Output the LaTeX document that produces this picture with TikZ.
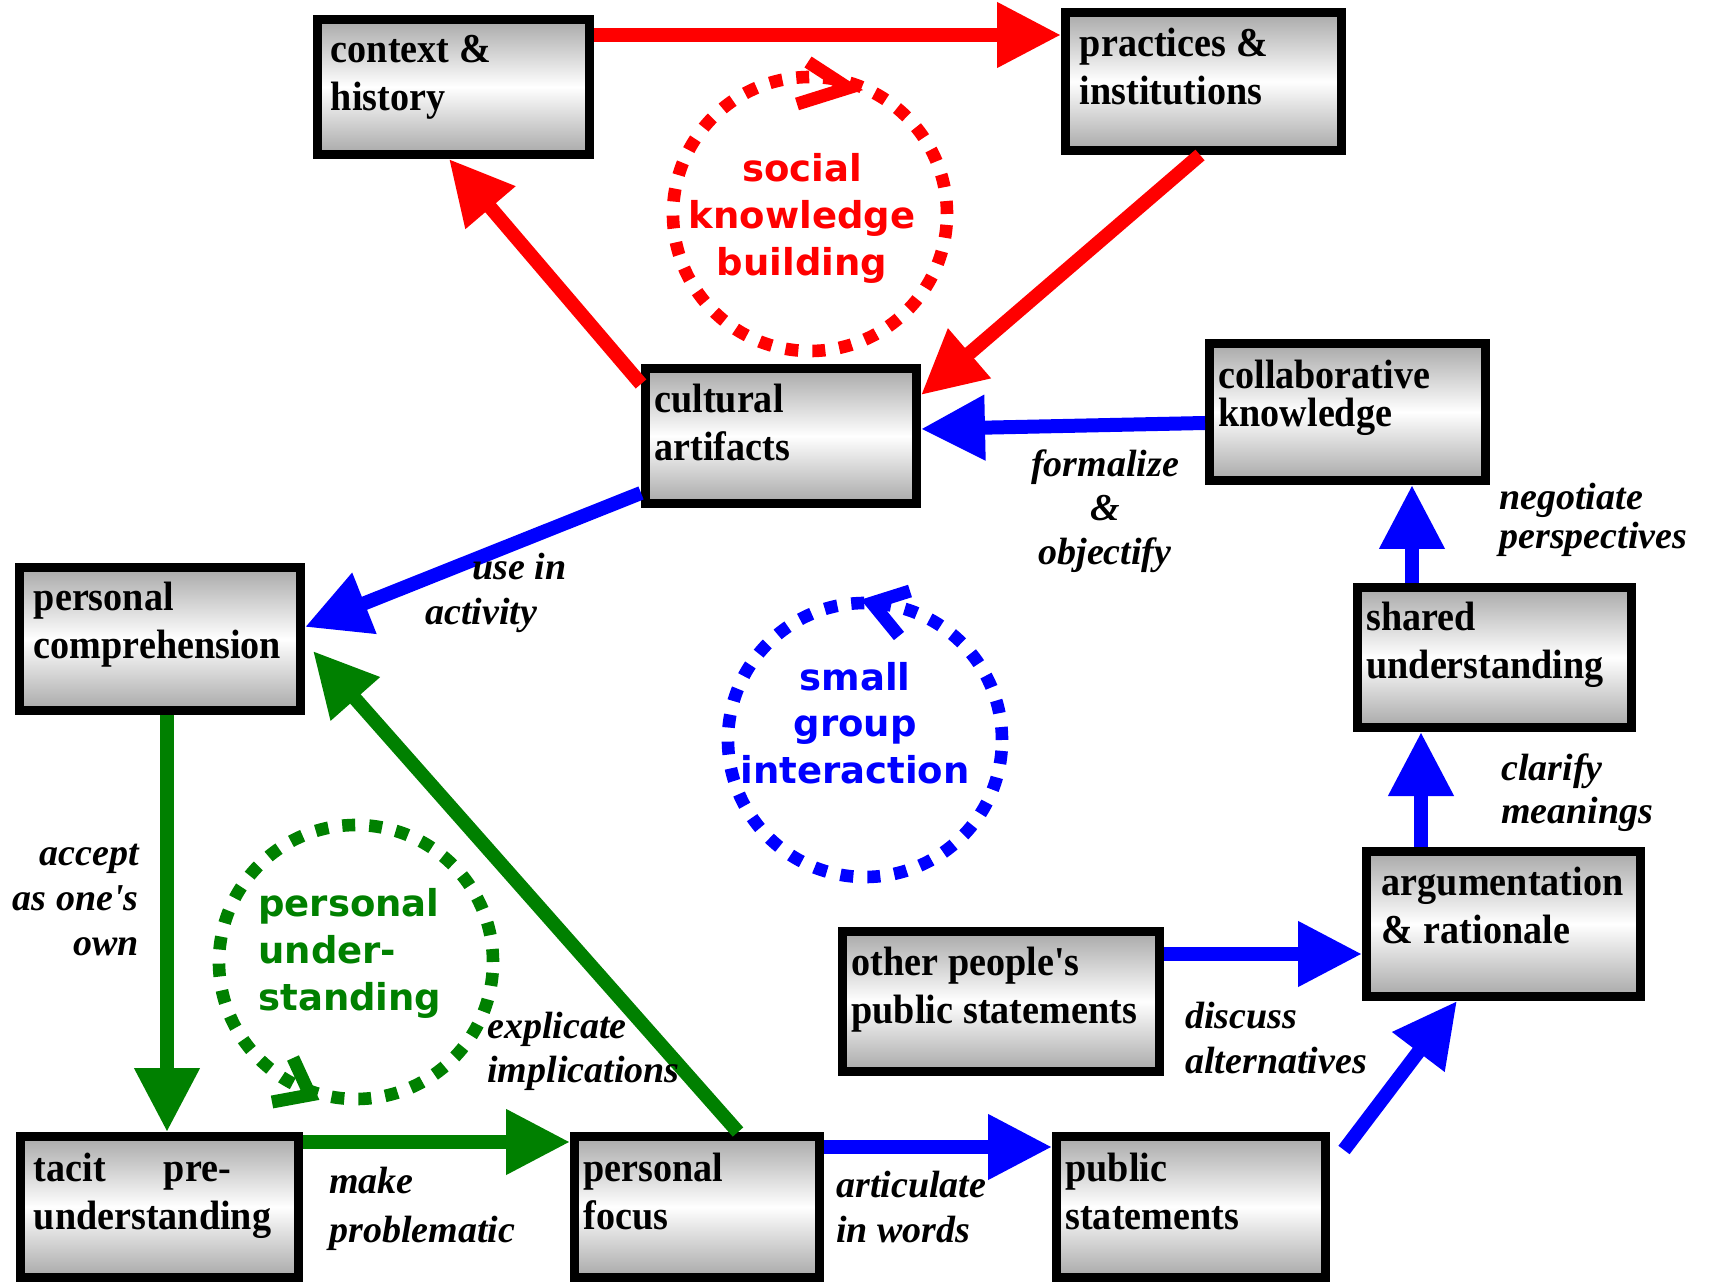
\documentclass[tikz,border=0pt]{standalone}
\usepackage{fontspec}
\setmainfont{Liberation Serif}
\newfontfamily\boxfont[FakeStretch=0.93]{Liberation Serif}
\newfontfamily\circfont{DejaVu Sans}
\usetikzlibrary{arrows.meta,calc}
\definecolor{cred}{RGB}{255,0,0}
\definecolor{cblue}{RGB}{0,0,255}
\definecolor{cgreen}{RGB}{0,128,0}
\tikzset{
  box/.style={draw=black, line width=4.5pt, top color=black!34, bottom color=black!34, middle color=white, inner sep=0pt},
  boxtext/.style={inner sep=0pt, anchor=base west, text width=150pt, align=left, font=\boxfont\bfseries\fontsize{20.5}{24}\selectfont, execute at begin node={\spaceskip=0.25em\relax}},
  lab/.style={inner sep=0pt, text width=150pt, font=\bfseries\itshape\fontsize{19}{22.5}\selectfont, execute at begin node={\spaceskip=0.25em\relax}},
  arr/.style={line width=7pt, -{Triangle[length=32pt,width=31pt]}},
  ring/.style={circle, draw, inner sep=0pt, minimum size=137pt, line width=6.3pt, dash pattern=on 6.5pt off 7pt},
  chev/.style={line width=6.5pt, miter limit=4},
  circtext/.style={inner sep=0pt, text width=130pt, align=center, anchor=base, font=\circfont\bfseries\fontsize{18.5}{23.5}\selectfont},
}
\begin{document}
\begin{tikzpicture}[x=0.5pt,y=-0.5pt]
\useasboundingbox (0,0) rectangle (1710,1283);

% dotted cycles
\node[ring, cred] (redring) at (810,214) {};
\node[ring, cblue] (bluering) at (865,740) {};
\node[ring, cgreen] (greenring) at (356,962) {};
\draw[chev, cred] (808,62) -- (848,88) -- (797,104);
\draw[chev, cblue] (910,591) -- (872,603) -- (899,636);
\draw[chev, cgreen] (293,1058) -- (310,1095) -- (272,1102);
\node[circtext, text=cred] (redT) at (802,182) {social\\knowledge\\building};
\node[circtext, text=cblue] (blueT) at (855,690) {small\\group\\interaction};
\node[circtext, text=cgreen, align=left, anchor=base west] (greenT) at (258,916) {personal\\under-\\standing};

% boxes
\node[box, minimum width=136pt, minimum height=67.5pt] (ctx) at (453.5,87) {};
\node[box, minimum width=138pt, minimum height=69pt] (prac) at (1203.5,81.5) {};
\node[box, minimum width=135.5pt, minimum height=67.5pt] (cult) at (781,436) {};
\node[box, minimum width=138pt, minimum height=68.5pt] (collab) at (1347.5,412) {};
\node[box, minimum width=140.5pt, minimum height=71.5pt] (pcomp) at (160,639) {};
\node[box, minimum width=137pt, minimum height=70pt] (shared) at (1494.5,657.5) {};
\node[box, minimum width=137pt, minimum height=72.5pt] (arg) at (1503.5,924) {};
\node[box, minimum width=158.5pt, minimum height=70pt] (other) at (1001,1001.5) {};
\node[box, minimum width=139pt, minimum height=70.5pt] (tacit) at (159.5,1207) {};
\node[box, minimum width=122.5pt, minimum height=70.5pt] (pfocus) at (697,1207) {};
\node[box, minimum width=134.5pt, minimum height=70.5pt] (pubst) at (1191,1207) {};

% box texts
\node[boxtext] (ctxT) at ([shift={(17.5,48)}]ctx.north west) {context \&\\history};
\node[boxtext] (pracT) at ([shift={(18.5,49)}]prac.north west) {practices \&\\institutions};
\node[boxtext] (cultT) at ([shift={(13,49)}]cult.north west) {cultural\\artifacts};
\node[boxtext, font=\boxfont\bfseries\fontsize{20.5}{19}\selectfont] (collabT) at ([shift={(13,50)}]collab.north west) {collaborative\\knowledge};
\node[boxtext] (pcompT) at ([shift={(18.5,48)}]pcomp.north west) {personal\\comprehension};
\node[boxtext] (sharedT) at ([shift={(13,48)}]shared.north west) {shared\\understanding};
\node[boxtext] (argT) at ([shift={(19.5,48)}]arg.north west) {argumentation\\\& rationale};
\node[boxtext] (otherT) at ([shift={(13,48)}]other.north west) {other people's\\public statements};
\node[boxtext] (tacitT) at ([shift={(17.5,49)}]tacit.north west) {\makebox[65pt][l]{tacit}pre-\\understanding};
\node[boxtext] (pfocusT) at ([shift={(13,49)}]pfocus.north west) {personal\\focus};
\node[boxtext] (pubstT) at ([shift={(13,49)}]pubst.north west) {public\\statements};

% red arrows
\draw[arr, cred] (ctx.east |- 0,35) -- (prac.west |- 0,35);
\draw[arr, cred] (prac.south -| 1200,0) -- (cult.east |- 0,395);
\draw[arr, cred] (cult.west |- 0,384) -- (ctx.south -| 449,0);
% blue arrows
\draw[arr, cblue] (collab.west |- 0,423) -- (cult.east |- 0,429);
\draw[arr, cblue] (cult.west |- 0,493) -- (pcomp.east |- 0,627);
\draw[arr, cblue] (shared.north -| 1412,0) -- (collab.south -| 1412,0);
\draw[arr, cblue] (arg.north -| 1421,0) -- (shared.south -| 1421,0);
\draw[arr, cblue] (other.east |- 0,954) -- (arg.west |- 0,954);
\draw[arr, cblue] ($(pubst.north east)+(14,18)$) -- (arg.south -| 1457,0);
\draw[arr, cblue] (pfocus.east |- 0,1147) -- (pubst.west |- 0,1147);
% green arrows
\draw[arr, cgreen] (pcomp.south -| 167,0) -- (tacit.north -| 167,0);
\draw[arr, cgreen] (tacit.east |- 0,1142) -- (pfocus.west |- 0,1142);
\draw[arr, cgreen] (pfocus.north -| 738,0) -- ($(pcomp.east |- 0,651)+(8,0)$);

% labels
\node[lab, align=left, anchor=base west] (useL) at (425,580) {\hspace*{23.5pt}use in\\activity};
\node[lab, align=center, anchor=base, font=\bfseries\itshape\fontsize{19}{22}\selectfont] (formL) at (1105,477) {formalize\\\&\\objectify};
\node[lab, align=left, anchor=base west, font=\bfseries\itshape\fontsize{19}{19.5}\selectfont] (negL) at (1499,510) {negotiate\\perspectives};
\node[lab, align=left, anchor=base west, font=\bfseries\itshape\fontsize{19}{21}\selectfont] (clarL) at (1501,781) {clarify\\meanings};
\node[lab, align=left, anchor=base west] (discL) at (1185,1028) {discuss\\alternatives};
\node[lab, align=left, anchor=base west] (artL) at (836,1197) {articulate\\in words};
\node[lab, align=left, anchor=base west, font=\bfseries\itshape\fontsize{19}{24.5}\selectfont] (makeL) at (329,1193) {make\\problematic};
\node[lab, align=left, anchor=base west, font=\bfseries\itshape\fontsize{19}{22}\selectfont] (explL) at (487,1038) {explicate\\implications};
\node[lab, align=right, anchor=base east] (accL) at (139,865) {accept\\as one\textquotesingle s\\own};
\end{tikzpicture}
\end{document}
